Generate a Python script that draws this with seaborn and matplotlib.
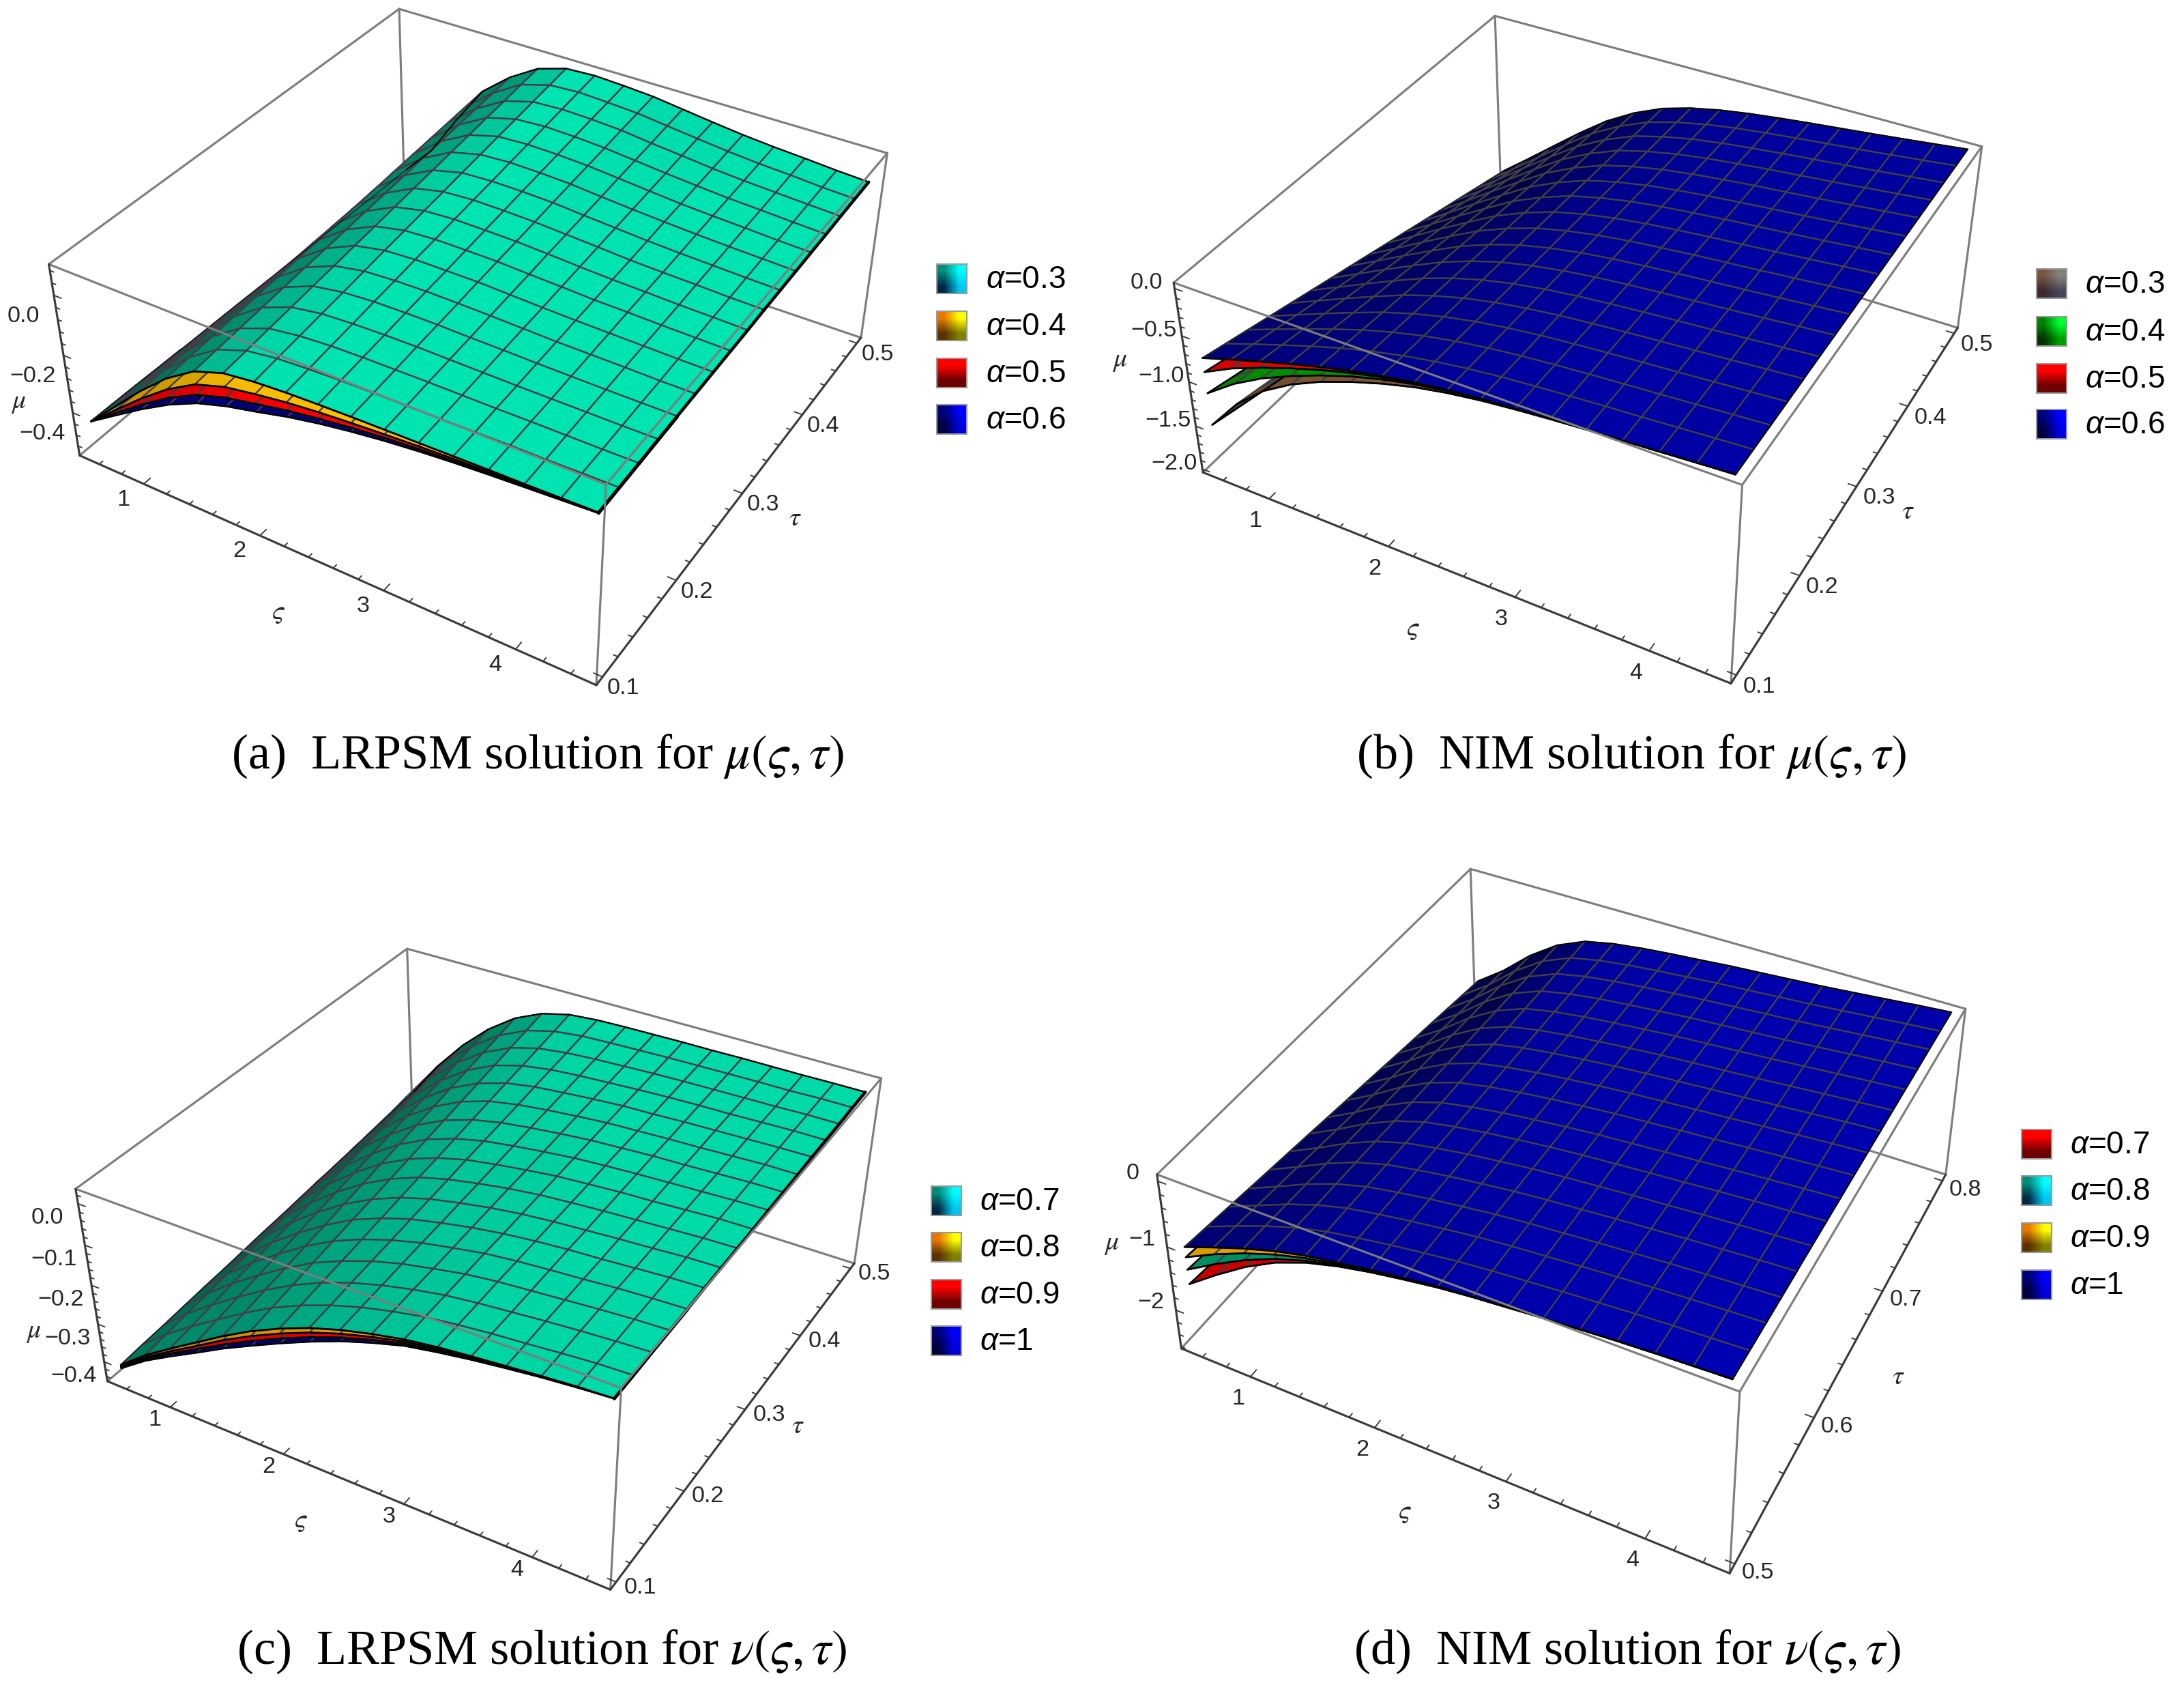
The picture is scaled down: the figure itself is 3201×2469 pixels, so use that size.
import numpy as np
import matplotlib
matplotlib.use("Agg")
import matplotlib.pyplot as plt
import seaborn as sns
from mpl_toolkits.mplot3d import proj3d


# Config
W_PX, H_PX = 3201, 2470
DPI = 300

sns.set_theme(style="white")
plt.rcParams["font.family"] = ["Liberation Sans", "DejaVu Sans"]
plt.rcParams["mathtext.fontset"] = "custom"
plt.rcParams["mathtext.it"] = "Liberation Sans:italic"
plt.rcParams["mathtext.rm"] = "Liberation Sans"

FOCAL = 0.4
VIEW_HALF = 0.1

# Nodes of the mesh
zeta_nodes = [0.5, 0.75, 1.0, 1.25, 1.5, 1.75, 2.0, 2.25, 2.5, 2.75, 3.0, 3.25, 3.5, 3.75, 4.0, 4.25, 4.5]
tau_low = [0.1, 0.125, 0.15, 0.175, 0.2, 0.225, 0.25, 0.275, 0.3, 0.325, 0.35, 0.375, 0.4, 0.425, 0.45, 0.475, 0.5]
tau_high = [0.5, 0.519, 0.538, 0.556, 0.575, 0.594, 0.613, 0.631, 0.65, 0.669, 0.688, 0.706, 0.725, 0.744, 0.763, 0.781, 0.8]

# Upper sheet of every panel, read in thousandths, rows run along tau
top_a = [
    [-440, -345, -250, -165, -100, -65, -52, -45, -41, -38, -36, -34, -32, -30, -29, -27, -25],
    [-442, -347, -248, -160, -94, -58, -43, -37, -33, -31, -30, -29, -28, -26, -26, -24, -23],
    [-444, -348, -247, -155, -88, -50, -35, -28, -25, -24, -23, -23, -23, -22, -22, -22, -21],
    [-447, -350, -245, -150, -82, -43, -26, -20, -17, -16, -17, -18, -19, -19, -19, -19, -18],
    [-449, -351, -243, -145, -76, -35, -18, -11, -9, -9, -11, -12, -14, -15, -16, -16, -16],
    [-451, -353, -241, -140, -70, -28, -9, -3, -1, -2, -4, -7, -10, -11, -12, -14, -14],
    [-453, -355, -240, -135, -65, -20, 0, 6, 6, 6, 2, -2, -5, -7, -9, -11, -12],
    [-455, -356, -238, -130, -59, -13, 8, 14, 14, 13, 8, 4, -1, -3, -6, -8, -10],
    [-458, -358, -236, -125, -53, -5, 17, 23, 22, 20, 15, 9, 4, 1, -3, -5, -8],
    [-460, -359, -234, -120, -47, 3, 25, 31, 30, 27, 21, 15, 8, 4, 1, -3, -5],
    [-462, -361, -232, -115, -41, 10, 34, 39, 38, 35, 27, 20, 13, 8, 4, 0, -3],
    [-464, -363, -231, -110, -35, 18, 42, 48, 46, 42, 33, 25, 18, 12, 7, 3, -1],
    [-466, -364, -229, -105, -29, 25, 51, 56, 54, 49, 40, 31, 22, 16, 11, 5, 1],
    [-469, -366, -227, -100, -23, 33, 59, 65, 62, 56, 46, 36, 27, 19, 14, 8, 3],
    [-471, -367, -225, -95, -17, 40, 68, 73, 70, 64, 52, 42, 31, 23, 17, 11, 6],
    [-473, -369, -224, -90, -11, 48, 76, 82, 77, 71, 59, 47, 36, 27, 21, 13, 8],
    [-475, -370, -222, -85, -5, 55, 85, 90, 85, 78, 65, 52, 40, 31, 24, 16, 10],
]
top_b = [
    [-770, -669, -570, -476, -388, -310, -243, -186, -142, -107, -81, -59, -38, -20, 0, 21, 40],
    [-831, -720, -612, -508, -410, -326, -254, -195, -149, -113, -86, -63, -41, -22, -1, 21, 41],
    [-891, -772, -653, -540, -432, -341, -264, -203, -156, -119, -91, -67, -45, -25, -3, 21, 42],
    [-952, -823, -695, -572, -455, -357, -275, -212, -163, -125, -96, -71, -48, -27, -4, 20, 43],
    [-1012, -874, -736, -604, -477, -372, -286, -220, -170, -131, -101, -75, -51, -29, -5, 20, 44],
    [-1073, -926, -778, -635, -499, -388, -297, -229, -176, -137, -106, -79, -55, -32, -6, 20, 45],
    [-1134, -977, -819, -667, -521, -403, -307, -237, -183, -142, -111, -83, -58, -34, -8, 20, 46],
    [-1194, -1028, -861, -699, -543, -419, -318, -246, -190, -148, -116, -87, -61, -36, -9, 19, 47],
    [-1255, -1080, -902, -731, -566, -435, -329, -254, -197, -154, -121, -91, -64, -38, -10, 19, 48],
    [-1316, -1131, -944, -763, -588, -450, -340, -263, -204, -160, -126, -95, -68, -41, -11, 19, 48],
    [-1376, -1182, -985, -795, -610, -466, -350, -271, -211, -166, -131, -99, -71, -43, -13, 19, 49],
    [-1437, -1234, -1027, -826, -632, -481, -361, -280, -218, -172, -136, -103, -74, -45, -14, 18, 50],
    [-1498, -1285, -1068, -858, -654, -497, -372, -288, -225, -178, -141, -107, -78, -48, -15, 18, 51],
    [-1558, -1336, -1110, -890, -677, -512, -382, -297, -232, -184, -146, -111, -81, -50, -16, 18, 52],
    [-1619, -1388, -1151, -922, -699, -528, -393, -305, -239, -190, -151, -116, -84, -52, -18, 18, 53],
    [-1679, -1439, -1193, -954, -721, -543, -404, -314, -246, -196, -156, -120, -87, -54, -19, 17, 54],
    [-1740, -1490, -1234, -980, -745, -559, -416, -321, -253, -202, -161, -124, -90, -56, -20, 17, 55],
]
top_c = [
    [-415, -360, -313, -268, -223, -182, -147, -117, -93, -74, -58, -47, -39, -32, -25, -19, -15],
    [-410, -353, -304, -258, -213, -172, -138, -110, -87, -69, -54, -44, -36, -30, -23, -17, -14],
    [-406, -346, -295, -247, -202, -162, -129, -102, -81, -64, -50, -41, -34, -27, -21, -16, -12],
    [-401, -339, -285, -237, -192, -152, -121, -95, -75, -60, -46, -37, -31, -25, -19, -14, -11],
    [-396, -332, -276, -227, -181, -142, -112, -88, -69, -55, -42, -34, -28, -23, -17, -13, -10],
    [-392, -325, -267, -217, -171, -132, -103, -80, -64, -50, -39, -31, -25, -21, -16, -11, -8],
    [-387, -317, -258, -206, -160, -123, -94, -73, -58, -45, -35, -28, -23, -18, -14, -9, -7],
    [-382, -310, -249, -196, -150, -113, -85, -66, -52, -40, -31, -25, -20, -16, -12, -8, -6],
    [-378, -303, -240, -186, -139, -103, -77, -58, -46, -36, -27, -22, -17, -14, -10, -6, -5],
    [-373, -296, -230, -176, -129, -93, -68, -51, -40, -31, -23, -18, -14, -11, -8, -5, -3],
    [-368, -289, -221, -165, -118, -83, -59, -44, -34, -26, -19, -15, -11, -9, -6, -3, -2],
    [-364, -282, -212, -155, -108, -73, -50, -37, -28, -21, -15, -12, -9, -7, -4, -1, -1],
    [-359, -275, -203, -145, -97, -63, -41, -29, -22, -16, -11, -9, -6, -4, -2, 0, 1],
    [-354, -268, -194, -135, -87, -53, -33, -22, -16, -12, -8, -5, -3, -2, 0, 2, 2],
    [-350, -260, -184, -124, -76, -43, -24, -15, -10, -7, -4, -2, -1, 0, 1, 3, 3],
    [-345, -253, -175, -114, -66, -33, -15, -7, -4, -2, 0, 1, 2, 3, 3, 5, 5],
    [-340, -246, -168, -104, -55, -23, -6, 0, 2, 3, 4, 4, 5, 5, 5, 6, 6],
]
top_d = [
    [-1055, -880, -714, -570, -456, -374, -297, -231, -168, -122, -86, -48, -16, 16, 40, 61, 80],
    [-1095, -910, -730, -575, -456, -373, -297, -232, -171, -125, -89, -52, -20, 13, 38, 60, 81],
    [-1134, -940, -746, -581, -456, -372, -297, -234, -174, -128, -93, -56, -23, 10, 36, 60, 81],
    [-1174, -970, -761, -586, -456, -371, -297, -235, -176, -131, -96, -59, -27, 7, 34, 59, 82],
    [-1214, -1000, -777, -591, -456, -370, -297, -236, -179, -135, -100, -63, -31, 4, 32, 59, 82],
    [-1253, -1031, -793, -596, -456, -369, -297, -237, -182, -138, -103, -67, -34, 0, 30, 58, 83],
    [-1293, -1061, -809, -602, -456, -368, -297, -239, -185, -141, -106, -71, -38, -3, 28, 57, 84],
    [-1333, -1091, -824, -607, -456, -367, -297, -240, -188, -144, -110, -74, -42, -6, 26, 57, 84],
    [-1373, -1121, -840, -612, -456, -366, -297, -241, -190, -147, -113, -78, -46, -9, 24, 56, 85],
    [-1412, -1151, -856, -617, -455, -365, -297, -242, -193, -150, -117, -82, -49, -12, 22, 56, 86],
    [-1452, -1181, -871, -623, -455, -364, -297, -244, -196, -153, -120, -86, -53, -15, 20, 55, 86],
    [-1492, -1211, -887, -628, -455, -363, -297, -245, -199, -156, -123, -89, -57, -18, 18, 54, 87],
    [-1531, -1241, -903, -633, -455, -362, -297, -246, -202, -159, -127, -93, -60, -21, 16, 54, 88],
    [-1571, -1272, -919, -638, -455, -361, -297, -247, -205, -162, -130, -97, -64, -25, 14, 53, 88],
    [-1611, -1302, -934, -644, -455, -360, -297, -249, -207, -166, -134, -101, -68, -28, 12, 53, 89],
    [-1650, -1332, -950, -649, -455, -359, -297, -250, -210, -169, -137, -104, -71, -31, 10, 52, 89],
    [-1690, -1362, -966, -654, -455, -358, -297, -251, -213, -172, -141, -108, -75, -34, 8, 52, 90],
]

# Gap between the upper sheet and each lower sheet, near the tau start, thousandths
gaps_a = [
    [0, 30, 61, 88, 106, 109, 98, 79, 62, 48, 36, 27, 20, 15, 10, 6, 2],
    [0, 22, 45, 65, 78, 80, 72, 58, 46, 35, 26, 20, 15, 11, 7, 4, 1],
    [0, 12, 25, 36, 43, 45, 40, 32, 25, 20, 15, 11, 8, 6, 4, 2, 1],
]
gaps_b = [
    [750, 490, 320, 220, 158, 115, 79, 50, 31, 19, 11, 5, 2, 1, 0, 0, 0],
    [390, 265, 183, 130, 90, 57, 35, 20, 12, 7, 4, 2, 1, 0, 0, 0, 0],
    [155, 96, 67, 47, 32, 21, 12, 7, 4, 2, 1, 0, 0, 0, 0, 0, 0],
]
gaps_c = [
    [9, 14, 20, 26, 31, 36, 36, 33, 27, 21, 15, 12, 8, 5, 3, 2, 0],
    [6, 9, 13, 17, 21, 24, 24, 22, 18, 14, 10, 8, 5, 3, 2, 1, 0],
    [3, 5, 7, 9, 10, 12, 12, 11, 9, 7, 5, 4, 3, 2, 1, 1, 0],
]
gaps_d = [
    [585, 425, 283, 175, 105, 57, 35, 22, 14, 9, 5, 3, 2, 1, 0, 0, 0],
    [355, 257, 178, 118, 76, 48, 32, 20, 13, 8, 5, 3, 2, 1, 0, 0, 0],
    [160, 105, 73, 52, 37, 27, 20, 14, 9, 6, 4, 2, 1, 0, 0, 0, 0],
]

# Sheet colours, lowest first and upper sheet last
sheets_a = [(0, 0, 125), (250, 0, 0), (250, 190, 0), (0, 228, 178)]
sheets_b = [(135, 92, 55), (0, 160, 0), (240, 0, 0), (0, 0, 168)]
sheets_c = [(0, 0, 125), (250, 0, 0), (245, 165, 0), (0, 218, 168)]
sheets_d = [(235, 0, 0), (0, 160, 110), (240, 170, 0), (0, 0, 178)]

# Legends
labels_ab = ["$\\alpha$=0.3", "$\\alpha$=0.4", "$\\alpha$=0.5", "$\\alpha$=0.6"]
labels_cd = ["$\\alpha$=0.7", "$\\alpha$=0.8", "$\\alpha$=0.9", "$\\alpha$=1"]

CYAN = [[(0, 140, 120), (0, 255, 255)], [(0, 40, 70), (0, 200, 240)]]
YELLOW = [[(230, 120, 0), (255, 255, 0)], [(90, 50, 0), (130, 130, 0)]]
RED = [[(255, 0, 0), (255, 0, 0)], [(110, 0, 0), (110, 0, 0)]]
BLUE = [[(0, 0, 120), (0, 0, 255)], [(0, 0, 60), (0, 0, 220)]]
GREEN = [[(0, 130, 0), (0, 255, 50)], [(0, 50, 0), (0, 160, 0)]]
BROWN = [[(120, 85, 65), (130, 130, 125)], [(60, 40, 45), (70, 70, 90)]]

zeta_ticks = [1, 2, 3, 4]
tau_ticks_low = [0.1, 0.2, 0.3, 0.4, 0.5]
tau_ticks_high = [0.5, 0.6, 0.7, 0.8]

panels = [
    dict(top=top_a, gaps=gaps_a, colors=sheets_a, tau=tau_low, tau_box=(0.092, 0.508), z_box=(-0.555, 0.10),
         az=-58.5, el=36.5, h=0.40, cx=711, cy=446, sx=2913, sy=2894, mesh="#453c46", k=0.62, rim=1.1,
         z_ticks=[0.0, -0.2, -0.4], z_fmt="{:.1f}", z_minor=0.04, tau_ticks=tau_ticks_low, tau_minor=0.02,
         off_z=(-45, -30), off_zeta=(-30, -22), off_tau=(30, -16),
         lab_zeta=(408, 897), lab_tau=(1165, 759), lab_z=(27, 589),
         caption="(a)  LRPSM solution for $\\mu(\\varsigma, \\tau)$", cap=(788, 1108),
         legend=labels_ab, swatches=[CYAN, YELLOW, RED, BLUE], sw_x=1373, sw_y=[388, 457, 526, 594], text_x=1445),
    dict(top=top_b, gaps=gaps_b, colors=sheets_b, tau=tau_low, tau_box=(0.092, 0.508), z_box=(-2.04, 0.06),
         az=-61.6, el=36.2, h=0.39, cx=2342, cy=451, sx=2850, sy=2920, mesh="#414141", k=1.05, rim=0.45,
         z_ticks=[0.0, -0.5, -1.0, -1.5, -2.0], z_fmt="{:.1f}", z_minor=0.1, tau_ticks=tau_ticks_low, tau_minor=0.02,
         off_z=(-41, 9), off_zeta=(-20, -32), off_tau=(33, -16),
         lab_zeta=(2071, 921), lab_tau=(2796, 749), lab_z=(1641, 528),
         caption="(b)  NIM solution for $\\mu(\\varsigma, \\tau)$", cap=(2391, 1108),
         legend=labels_ab, swatches=[BROWN, GREEN, RED, BLUE], sw_x=2985, sw_y=[395, 465, 534, 601], text_x=3056),
    dict(top=top_c, gaps=gaps_c, colors=sheets_c, tau=tau_low, tau_box=(0.092, 0.508), z_box=(-0.453, 0.035),
         az=-59.5, el=36.4, h=0.43, cx=727, cy=1802, sx=2803, sy=2700, mesh="#453c46", k=0.62, rim=1.1,
         z_ticks=[0.0, -0.1, -0.2, -0.3, -0.4], z_fmt="{:.1f}", z_minor=0.02, tau_ticks=tau_ticks_low, tau_minor=0.02,
         off_z=(-45, -20), off_zeta=(-22, -18), off_tau=(35, -7),
         lab_zeta=(441, 2228), lab_tau=(1169, 2089), lab_z=(49, 1951),
         caption="(c)  LRPSM solution for $\\nu(\\varsigma, \\tau)$", cap=(794, 2420),
         legend=labels_cd, swatches=[CYAN, YELLOW, RED, BLUE], sw_x=1365, sw_y=[1739, 1807, 1876, 1944], text_x=1436),
    dict(top=top_d, gaps=gaps_d, colors=sheets_d, tau=tau_high, tau_box=(0.494, 0.806), z_box=(-2.63, 0.10),
         az=-63.0, el=36.2, h=0.32, cx=2320, cy=1722, sx=2890, sy=3260, mesh="#414141", k=1.15, rim=0.45,
         z_ticks=[0, -1, -2], z_fmt="{:.0f}", z_minor=0.2, tau_ticks=tau_ticks_high, tau_minor=0.02,
         off_z=(-37, 12), off_zeta=(-18, -31), off_tau=(34, -12),
         lab_zeta=(2059, 2215), lab_tau=(2782, 2017), lab_z=(1629, 1822),
         caption="(d)  NIM solution for $\\nu(\\varsigma, \\tau)$", cap=(2385, 2420),
         legend=labels_cd, swatches=[RED, CYAN, YELLOW, BLUE], sw_x=2963, sw_y=[1656, 1724, 1793, 1862], text_x=3034),
]

ZETA_BOX = (0.42, 4.58)
ZETA_MINOR = 0.2
BOX_GREY = "#7d7d7d"
AXIS_DARK = "#3a3a3a"
K_LOWER = 0.3


def fig_xy(x, y):
    return x / W_PX, 1 - y / H_PX


# Shade each cell from how steep the sheet is in box units
def cell_colors(X, Y, Z, base, p, k):
    zs = p["h"] / (p["z_box"][1] - p["z_box"][0])
    xs = 1 / (ZETA_BOX[1] - ZETA_BOX[0])
    ys = 1 / (p["tau_box"][1] - p["tau_box"][0])
    dz_x = np.diff(Z, axis=1)[:-1, :] * zs / (np.diff(X, axis=1)[:-1, :] * xs)
    dz_y = np.diff(Z, axis=0)[:, :-1] * zs / (np.diff(Y, axis=0)[:, :-1] * ys)
    shade = np.clip(1.04 - k * np.hypot(dz_x, 0.5 * dz_y), 0.42, 1.0)
    rgb = np.array(base) / 255.0
    out = np.ones(shade.shape + (4,))
    out[..., :3] = shade[..., None] * rgb
    return out


def draw_sheet(ax, X, Y, Z, base, p, zorder, lower=False):
    k = K_LOWER if lower else p["k"]
    surf = ax.plot_surface(X, Y, Z, rstride=1, cstride=1, shade=False,
                           facecolors=cell_colors(X, Y, Z, base, p, k), zorder=zorder)
    surf.set_edgecolor(p["mesh"])
    surf.set_linewidth(0.55)

    ax.plot(X[0], Y[0], Z[0], color="black", lw=0.65, zorder=zorder + 0.5, solid_capstyle="round")
    ax.plot(X[:, -1], Y[:, -1], Z[:, -1], color="black", lw=p["rim"], zorder=zorder + 0.5)
    if lower:
        ax.plot(X[:, 0], Y[:, 0], Z[:, 0], color="black", lw=0.6, zorder=zorder + 0.5)
    else:
        ax.plot(X[:, 0], Y[:, 0], Z[:, 0], color="#101820", lw=0.3, zorder=zorder + 0.5)
        ax.plot(X[-1], Y[-1], Z[-1], color="black", lw=0.5, zorder=zorder + 0.5)


def draw_box(ax, p):
    x0, x1 = ZETA_BOX
    y0, y1 = p["tau_box"]
    z0, z1 = p["z_box"]

    back = [((x0, x0), (y1, y1), (z0, z1)), ((x0, x0), (y0, y1), (z0, z0)), ((x0, x1), (y1, y1), (z0, z0)),
            ((x0, x0), (y0, y1), (z1, z1)), ((x0, x1), (y1, y1), (z1, z1))]
    front = [((x0, x1), (y0, y0), (z1, z1)), ((x1, x1), (y0, y1), (z1, z1)), ((x1, x1), (y1, y1), (z0, z1)),
             ((x1, x1), (y0, y0), (z0, z1))]
    dark = [((x0, x1), (y0, y0), (z0, z0)), ((x1, x1), (y0, y1), (z0, z0)), ((x0, x0), (y0, y0), (z0, z1))]

    for xs, ys, zs in back:
        ax.plot(xs, ys, zs, color=BOX_GREY, lw=0.75, zorder=1)
    for xs, ys, zs in front:
        ax.plot(xs, ys, zs, color=BOX_GREY, lw=0.75, zorder=30)
    for xs, ys, zs in dark:
        ax.plot(xs, ys, zs, color=AXIS_DARK, lw=0.75, zorder=31)

    # ticks lie in the walls of the box and point inwards
    dx = (x1 - x0) * 0.008
    dy = (y1 - y0) * 0.009
    for v in np.arange(np.ceil(x0 / ZETA_MINOR) * ZETA_MINOR, x1, ZETA_MINOR):
        k = 1.9 if abs(v - round(v)) < 1e-6 else 1
        ax.plot((v, v), (y0, y0 + k * dy), (z0, z0), color=AXIS_DARK, lw=0.45, zorder=31)
    step = p["tau_minor"]
    for v in np.arange(np.ceil(y0 / step - 1e-6) * step, y1, step):
        k = 1.9 if abs(v * 10 - round(v * 10)) < 1e-6 else 1
        ax.plot((x1, x1 - k * dx), (v, v), (z0, z0), color=AXIS_DARK, lw=0.45, zorder=31)
    step = p["z_minor"]
    for v in np.arange(np.ceil(z0 / step - 1e-6) * step, z1, step):
        major = min(abs(v - t) for t in p["z_ticks"]) < 1e-6
        ax.plot((x0, x0 + (1.9 if major else 1) * dx), (y0, y0), (v, v), color=AXIS_DARK, lw=0.45, zorder=31)


def tick_text(ax, x, y, z, text, off):
    x2, y2, _ = proj3d.proj_transform(x, y, z, ax.get_proj())
    ax.annotate(text, (x2, y2), xytext=off, textcoords="offset pixels", ha="center", va="center",
                fontsize=8.2, color="#262626", annotation_clip=False)


def draw_panel(fig, p):
    w = p["sx"] * 2 * VIEW_HALF / FOCAL
    h = p["sy"] * 2 * VIEW_HALF / FOCAL
    left, bottom = fig_xy(p["cx"] - w / 2, p["cy"] + h / 2)
    ax = fig.add_axes([left, bottom, w / W_PX, h / H_PX], projection="3d")
    ax.apply_aspect = lambda position=None: None
    ax.computed_zorder = False
    ax.patch.set_visible(False)
    ax.set_axis_off()

    ax.set_xlim(*ZETA_BOX, view_margin=0)
    ax.set_ylim(*p["tau_box"], view_margin=0)
    ax.set_zlim(*p["z_box"], view_margin=0)
    ax.view_init(elev=p["el"], azim=p["az"])
    ax.set_proj_type("persp", focal_length=FOCAL)
    side = 10 * FOCAL / 3.384
    ax.set_box_aspect((1, 1, p["h"]), zoom=side * np.sqrt(2 + p["h"] ** 2) / (1.8294640721620434 * 25 / 24))
    ax.viewLim.intervalx = (-VIEW_HALF, VIEW_HALF)
    ax.viewLim.intervaly = (-VIEW_HALF, VIEW_HALF)

    draw_box(ax, p)

    X, Y = np.meshgrid(np.array(zeta_nodes), np.array(p["tau"]))
    Z = np.array(p["top"]) / 1000.0
    for i, gap in enumerate(p["gaps"]):
        low = Z[:5] - np.array(gap) / 1000.0
        draw_sheet(ax, X[:5], Y[:5], low, p["colors"][i], p, 3 + 2 * i, lower=True)
    draw_sheet(ax, X, Y, Z, p["colors"][3], p, 10)

    x0, x1 = ZETA_BOX
    y0 = p["tau_box"][0]
    z0 = p["z_box"][0]
    for v in zeta_ticks:
        tick_text(ax, v, y0, z0, str(v), p["off_zeta"])
    for v in p["tau_ticks"]:
        tick_text(ax, x1, v, z0, f"{v:.1f}", p["off_tau"])
    for v in p["z_ticks"]:
        tick_text(ax, x0, y0, v, p["z_fmt"].format(v).replace("-", "\u2212"), p["off_z"])

    for sym, pos in ((r"$\varsigma$", p["lab_zeta"]), (r"$\tau$", p["lab_tau"]), (r"$\mu$", p["lab_z"])):
        fx, fy = fig_xy(*pos)
        fig.text(fx, fy, sym, fontsize=9.5, ha="center", va="center", color="#262626", math_fontfamily="stix")

    fx, fy = fig_xy(*p["cap"])
    fig.text(fx, fy, p["caption"], fontsize=17.3, family="Liberation Serif", ha="center", va="center",
             color="black", math_fontfamily="stix")

    # Legend
    for label, swatch, sy in zip(p["legend"], p["swatches"], p["sw_y"]):
        lx, by = fig_xy(p["sw_x"], sy + 43)
        sw = fig.add_axes([lx, by, 44 / W_PX, 43 / H_PX])
        sw.imshow(np.array(swatch, dtype=float) / 255.0, interpolation="bilinear", aspect="auto")
        sw.set_xticks([])
        sw.set_yticks([])
        for spine in sw.spines.values():
            spine.set_color("#9a9a9a")
            spine.set_linewidth(0.5)
        fx, fy = fig_xy(p["text_x"], sy + 22)
        fig.text(fx, fy, label, fontsize=11, ha="left", va="center", color="black")


def main():
    fig = plt.figure(figsize=(W_PX / DPI, H_PX / DPI), dpi=DPI, facecolor="white")
    for p in panels:
        draw_panel(fig, p)
    fig.savefig("out.png", dpi=DPI, facecolor="white")


if __name__ == "__main__":
    main()
